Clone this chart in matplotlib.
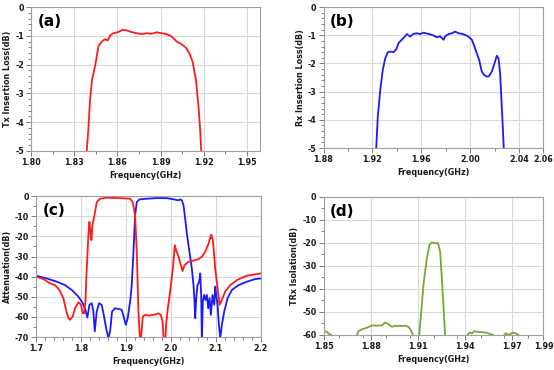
import numpy as np
import matplotlib.pyplot as plt
from matplotlib.ticker import MultipleLocator

# (a) Tx insertion loss
tx_f = [1.8387, 1.8398, 1.8410, 1.8424, 1.8449, 1.8468, 1.8491, 1.8514, 1.8532, 1.8553,
        1.8572, 1.8606, 1.8637, 1.8664, 1.8699, 1.8734, 1.8769, 1.8803, 1.8838, 1.8873,
        1.8907, 1.8942, 1.8977, 1.9012, 1.9046, 1.9076, 1.9100, 1.9123, 1.9146, 1.9164,
        1.9174, 1.9183]
tx_il = [-5.0, -4.28, -3.23, -2.53, -1.95, -1.37, -1.20, -1.12, -1.16, -0.97,
         -0.91, -0.87, -0.79, -0.81, -0.87, -0.91, -0.94, -0.91, -0.93, -0.88,
         -0.91, -0.94, -1.02, -1.20, -1.29, -1.41, -1.60, -1.90, -2.53, -3.47,
         -4.16, -5.0]

# (b) Rx insertion loss
rx_f = [1.9231, 1.9244, 1.9264, 1.9285, 1.9305, 1.9326, 1.9351, 1.9373, 1.9395, 1.9414,
        1.9433, 1.9454, 1.9482, 1.9509, 1.9536, 1.9564, 1.9591, 1.9618, 1.9645, 1.9673,
        1.9700, 1.9727, 1.9755, 1.9782, 1.9795, 1.9823, 1.9850, 1.9877, 1.9904, 1.9932,
        1.9959, 1.9986, 2.0014, 2.0035, 2.0054, 2.0074, 2.0095, 2.0114, 2.0136, 2.0155,
        2.0177, 2.0199, 2.0218, 2.0232, 2.0245, 2.0256, 2.0267, 2.0275]
rx_il = [-5.0, -3.90, -2.95, -2.23, -1.82, -1.60, -1.58, -1.60, -1.50, -1.28,
         -1.19, -1.10, -0.96, -1.05, -0.95, -0.93, -0.96, -0.91, -0.94, -0.97,
         -1.01, -1.07, -1.04, -1.16, -1.04, -0.96, -0.93, -0.87, -0.93, -0.95,
         -0.99, -1.05, -1.16, -1.40, -1.64, -1.88, -2.29, -2.41, -2.47, -2.45,
         -2.29, -2.00, -1.73, -1.82, -2.35, -3.30, -4.25, -5.0]

# (c) attenuation, Tx filter (red) and Rx filter (blue)
ctx_f = [1.700, 1.7163, 1.7312, 1.7423, 1.7519, 1.7608, 1.7668, 1.7720, 1.7757, 1.7816,
         1.7868, 1.7942, 1.8001, 1.8039, 1.8068, 1.8098, 1.8128, 1.8165, 1.8187, 1.8210,
         1.8232, 1.8254, 1.8299, 1.8350, 1.8424, 1.8573, 1.8869, 1.9092, 1.9151, 1.9203,
         1.9240, 1.9277, 1.9307, 1.9320, 1.9337, 1.9374, 1.9426, 1.9500, 1.9611, 1.9723,
         1.9775, 1.9812, 1.9834, 1.9855, 1.9878, 1.9893, 1.9930, 1.9982, 2.0042, 2.0086,
         2.0116, 2.0168, 2.0220, 2.0257, 2.0301, 2.0390, 2.0501, 2.0613, 2.0687, 2.0761,
         2.0835, 2.0895, 2.0932, 2.0984, 2.1036, 2.1080, 2.1132, 2.1206, 2.1318, 2.1466,
         2.1688, 2.2000]
ctx_db = [-40.0, -41.2, -43.3, -44.2, -46.6, -50.7, -56.5, -60.6, -61.4, -59.8,
          -55.7, -52.7, -54.0, -58.2, -58.2, -52.4, -35.9, -19.4, -12.8, -17.8,
          -21.9, -14.5, -9.6, -3.0, -1.3, -0.8, -1.0, -1.3, -3.0, -9.6,
          -27.7, -57.3, -70.0, -76.0, -70.0, -59.8, -59.0, -59.3, -59.0, -58.2,
          -59.0, -62.3, -70.0, -76.0, -70.0, -63.9, -55.7, -47.4, -35.9, -24.4,
          -26.9, -30.1, -34.3, -37.2, -34.3, -32.6, -32.0, -31.3, -30.1, -27.7,
          -23.6, -19.1, -21.9, -35.9, -45.8, -54.0, -51.6, -47.4, -44.2, -41.7,
          -39.5, -38.4]

crx_f = [1.700, 1.7237, 1.7460, 1.7645, 1.7794, 1.7942, 1.8039, 1.8098, 1.8142, 1.8187,
         1.8239, 1.8276, 1.8306, 1.8350, 1.8402, 1.8461, 1.8513, 1.8558, 1.8610, 1.8647,
         1.8691, 1.8758, 1.8832, 1.8906, 1.8958, 1.8995, 1.9039, 1.9091, 1.9128, 1.9166,
         1.9203, 1.9240, 1.9300, 1.9463, 1.9685, 1.9908, 2.0056, 2.0168, 2.0205, 2.0242,
         2.0279, 2.0316, 2.0353, 2.0390, 2.0427, 2.0464, 2.0501, 2.0524, 2.0539, 2.0561,
         2.0590, 2.0628, 2.0650, 2.0672, 2.0687, 2.0709, 2.0739, 2.0769, 2.0798, 2.0828,
         2.0858, 2.0887, 2.0924, 2.0962, 2.0984, 2.1006, 2.1036, 2.1065, 2.1095, 2.1132,
         2.1184, 2.1258, 2.1355, 2.1503, 2.1688, 2.1873, 2.2000]
crx_db = [-39.5, -40.9, -42.5, -44.2, -46.6, -49.9, -53.2, -56.5, -60.3, -54.0,
          -53.2, -57.3, -67.2, -57.3, -53.2, -54.0, -59.8, -65.5, -70.5, -67.2,
          -57.3, -55.7, -56.0, -56.5, -60.6, -63.9, -60.6, -52.4, -44.2, -27.7,
          -9.6, -3.0, -1.6, -1.3, -1.0, -1.0, -1.6, -2.1, -1.6, -2.1,
          -4.6, -11.2, -18.6, -24.4, -30.1, -35.9, -44.2, -52.4, -60.6, -50.7,
          -44.2, -42.5, -38.4, -49.1, -72.0, -52.4, -49.1, -51.6, -49.1, -55.7,
          -50.7, -59.0, -49.1, -54.0, -45.0, -49.1, -54.0, -63.9, -70.5, -63.9,
          -57.3, -50.7, -46.6, -44.2, -42.5, -41.2, -40.9]

# (d) TRx isolation (values below -60 are off the axis)
iso_f = [1.8500, 1.8521, 1.8538, 1.8547, 1.8560, 1.8700, 1.8712, 1.8722, 1.8744, 1.8776,
         1.8808, 1.8839, 1.8871, 1.8892, 1.8914, 1.8935, 1.8956, 1.8988, 1.9020, 1.9041,
         1.9056, 1.9069, 1.9080, 1.9100, 1.9109, 1.9122, 1.9136, 1.9158, 1.9175, 1.9189,
         1.9211, 1.9228, 1.9242, 1.9253, 1.9264, 1.9274, 1.9290, 1.9400, 1.9416, 1.9429,
         1.9444, 1.9459, 1.9476, 1.9508, 1.9539, 1.9565, 1.9578, 1.9590, 1.9640, 1.9650,
         1.9662, 1.9675, 1.9688, 1.9705, 1.9726, 1.9741, 1.9755, 1.9900]
iso_db = [-58.4, -58.7, -59.7, -60.0, -65.0, -65.0, -60.0, -58.4, -57.6, -56.9,
          -55.9, -56.0, -55.9, -54.7, -55.3, -56.5, -56.1, -56.1, -56.1, -56.5,
          -58.0, -60.0, -65.0, -65.0, -60.0, -50.0, -38.3, -26.6, -20.8, -19.8,
          -20.2, -20.1, -23.7, -35.4, -48.5, -60.0, -65.0, -65.0, -60.0, -59.0,
          -59.4, -58.4, -58.7, -58.8, -59.1, -59.7, -60.0, -65.0, -65.0, -60.0,
          -59.3, -60.0, -59.7, -59.0, -59.4, -60.0, -65.0, -65.0]

# tick labels
a_xt = ['1.80', '1.83', '1.86', '1.89', '1.92', '1.95']
b_xt = ['1.88', '1.92', '1.96', '2.00', '2.04', '2.06']
c_xt = ['1.7', '1.8', '1.9', '2.0', '2.1', '2.2']
d_xt = ['1.85', '1.88', '1.91', '1.94', '1.97', '1.99']

plt.rcParams['font.family'] = 'DejaVu Sans'
plt.rcParams['axes.unicode_minus'] = False
fig = plt.figure(figsize=(5.54, 3.70), dpi=100)

ax_a = fig.add_axes([0.056, 0.592, 0.413, 0.389])
ax_b = fig.add_axes([0.584, 0.600, 0.397, 0.381])
ax_c = fig.add_axes([0.065, 0.089, 0.406, 0.381])
ax_d = fig.add_axes([0.584, 0.095, 0.397, 0.373])


def style(ax, label, ylabel, xticks, xlabels, xmin, ymaj, ymin):
    ax.grid(True, color='#d9d9d9', linewidth=0.8)
    ax.set_axisbelow(True)
    for s in ax.spines.values():
        s.set_color('#a0a0a0')
        s.set_linewidth(0.8)
    ax.set_xticks([float(v) for v in xlabels])
    ax.set_xticklabels(xlabels)
    ax.xaxis.set_minor_locator(MultipleLocator(xmin))
    ax.yaxis.set_major_locator(MultipleLocator(ymaj))
    ax.yaxis.set_minor_locator(MultipleLocator(ymin))
    ax.tick_params(which='both', direction='out', colors='#808080', labelcolor='#1a1a1a',
                   labelsize=5.8, width=0.7, pad=1.5)
    ax.tick_params(which='major', length=3.5)
    ax.tick_params(which='minor', length=2)
    ax.set_xlabel('Frequency(GHz)', fontsize=5.8, color='#1a1a1a', labelpad=3,
                  fontweight='bold')
    ax.set_ylabel(ylabel, fontsize=5.8, color='#1a1a1a', labelpad=2, fontweight='bold')
    ax.text(0.03, 0.95, label, transform=ax.transAxes, fontsize=11, fontweight='bold',
            va='top', ha='left')


ax_a.plot(tx_f, tx_il, color='#ff1a1a', lw=1.3)
style(ax_a, '(a)', 'Tx Insertion Loss(dB)', None, a_xt, 0.015, 1, 0.2)
ax_a.set_xlim(1.80, 1.959)
ax_a.set_ylim(-5, 0)

ax_b.plot(rx_f, rx_il, color='#1a1aff', lw=1.3)
style(ax_b, '(b)', 'Rx Insertion Loss(dB)', None, b_xt, 0.02, 1, 0.2)
ax_b.set_xlim(1.88, 2.06)
ax_b.set_ylim(-5, 0)

ax_c.plot(crx_f, crx_db, color='#1a1aff', lw=1.3)
ax_c.plot(ctx_f, ctx_db, color='#ff1a1a', lw=1.3)
style(ax_c, '(c)', 'Attenuation(dB)', None, c_xt, 0.02, 10, 5)
ax_c.set_xlim(1.7, 2.2)
ax_c.set_ylim(-70, 0)

ax_d.plot(iso_f, iso_db, color='#77a832', lw=1.3)
style(ax_d, '(d)', 'TRx Isolation(dB)', None, d_xt, 0.015, 10, 5)
ax_d.set_xlim(1.85, 1.99)
ax_d.set_ylim(-60, 0)

for ax in (ax_a, ax_b, ax_c, ax_d):
    for t in ax.get_xticklabels() + ax.get_yticklabels():
        t.set_fontweight('bold')

fig.savefig('out.png', dpi=100)
